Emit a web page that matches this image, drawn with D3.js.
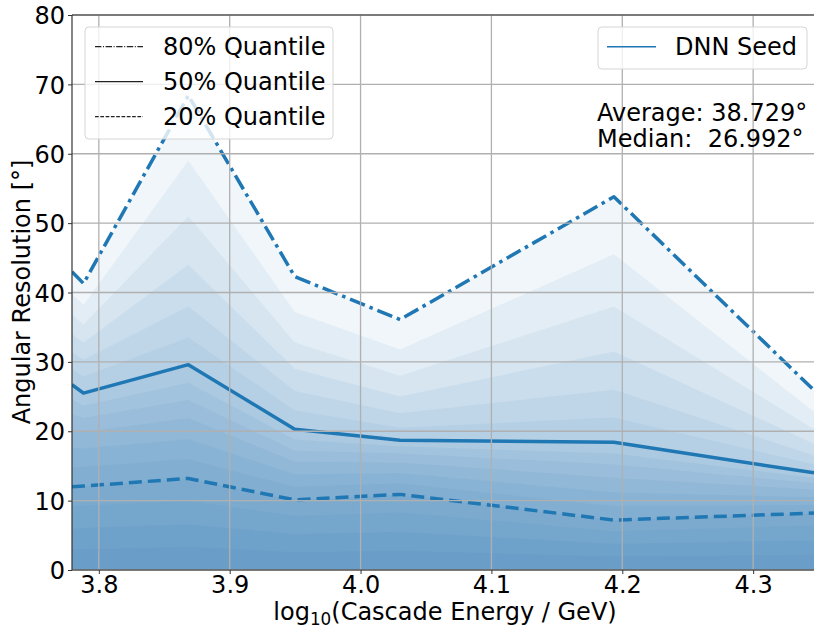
<!DOCTYPE html>
<html>
<head>
<meta charset="utf-8">
<script src="https://cdn.jsdelivr.net/npm/d3@7"></script>
<style>
  html, body { margin: 0; padding: 0; background: #fff; }
  svg { display: block; font-family: "DejaVu Sans", sans-serif; }
  text { white-space: pre; }
</style>
</head>
<body>
<svg id="chart" width="814" height="630"></svg>
<script>
// ---- data (intermediate quantiles estimated from the shading) ----
const energy = [3.7795, 3.7883, 3.8684, 3.9497, 4.0302, 4.1936, 4.3465];
const q80 = [43.0, 41.3, 68.4, 42.3, 36.1, 53.8, 25.9];
const q75 = [39.8, 38.2, 59.0, 37.2, 31.8, 45.5, 22.8];
const q70 = [36.8, 35.4, 51.0, 32.8, 28.0, 38.0, 20.3];
const q65 = [34.0, 32.8, 44.0, 29.0, 25.0, 31.5, 18.2];
const q60 = [31.4, 30.3, 38.0, 25.8, 22.6, 26.0, 16.5];
const q55 = [29.0, 27.9, 33.5, 23.0, 20.5, 22.0, 15.2];
const q50 = [26.7, 25.5, 29.6, 20.3, 18.7, 18.4, 14.0];
const q45 = [24.6, 23.7, 27.0, 18.8, 17.8, 16.8, 13.3];
const q40 = [22.5, 21.9, 24.5, 17.2, 16.8, 15.2, 12.5];
const q35 = [20.3, 19.9, 21.9, 15.6, 15.5, 13.3, 11.6];
const q30 = [17.6, 17.5, 18.9, 13.8, 14.0, 11.2, 10.5];
const q25 = [14.8, 14.9, 16.0, 12.0, 12.5, 9.2, 9.4];
const q20 = [12.0, 12.1, 13.2, 10.1, 10.9, 7.2, 8.2];
const q15 = [9.2, 9.3, 10.0, 7.8, 8.3, 5.6, 6.4];
const q10 = [6.0, 6.1, 6.6, 5.2, 5.5, 3.8, 4.3];
const q05 = [3.0, 3.0, 3.4, 2.6, 2.8, 2.0, 2.2];
const fillLevels = [q05, q10, q15, q20, q25, q30, q35, q40, q45, q50, q55, q60, q65, q70, q75, q80];
const xTicks = [3.8, 3.9, 4.0, 4.1, 4.2, 4.3];
const yTicks = [0, 10, 20, 30, 40, 50, 60, 70, 80];
const quantileLegend = ["80% Quantile", "50% Quantile", "20% Quantile"];
const seedLabel = "DNN Seed";
const statLines = ["Average: 38.729°", "Median:  26.992°"];

// ---- layout ----
const svg = d3.select("#chart");
const L = 72, R = 814, T = 15, B = 570;
const x = d3.scaleLinear().domain([3.7795, 4.3465]).range([L, R]);
const y = d3.scaleLinear().domain([0, 80]).range([B, T]);
const blue = "#1f77b4";
const fs = 24;

svg.append("defs").append("clipPath").attr("id", "clip")
  .append("rect").attr("x", L).attr("y", T).attr("width", R - L).attr("height", B - T);

const plot = svg.append("g").attr("clip-path", "url(#clip)");

// filled quantile layers
const area = d3.area().x((d, i) => x(energy[i])).y0(y(0)).y1(d => y(d));
fillLevels.forEach(arr => {
  plot.append("path").datum(arr).attr("d", area)
    .attr("fill", blue).attr("fill-opacity", 0.062).attr("stroke", "none");
});

// grid
const grid = svg.append("g");
xTicks.forEach(t => grid.append("line")
  .attr("x1", x(t)).attr("x2", x(t)).attr("y1", T).attr("y2", B)
  .attr("stroke", "#b0b0b0").attr("stroke-width", 1.3));
yTicks.forEach(t => grid.append("line")
  .attr("x1", L).attr("x2", R).attr("y1", y(t)).attr("y2", y(t))
  .attr("stroke", "#b0b0b0").attr("stroke-width", 1.3));

// quantile lines
const line = d3.line().x((d, i) => x(energy[i])).y(d => y(d));
const styles = [
  { data: q80, dash: "16,5,3.5,5" },
  { data: q50, dash: null },
  { data: q20, dash: "13,6" }
];
styles.forEach(s => {
  const p = plot.append("path").datum(s.data).attr("d", line)
    .attr("fill", "none").attr("stroke", blue).attr("stroke-width", 3.5)
    .attr("stroke-linejoin", "round");
  if (s.dash) p.attr("stroke-dasharray", s.dash);
});

// axes
const xAxis = d3.axisBottom(x).tickValues(xTicks).tickFormat(d3.format(".1f")).tickSize(4).tickPadding(2);
const yAxis = d3.axisLeft(y).tickValues(yTicks).tickFormat(d3.format("d")).tickSize(4).tickPadding(3);
const gx = svg.append("g").attr("transform", `translate(0,${B})`).call(xAxis);
const gy = svg.append("g").attr("transform", `translate(${L},0)`).call(yAxis);
[gx, gy].forEach(g => {
  g.select(".domain").remove();
  g.selectAll("line").attr("stroke", "#333").attr("stroke-width", 1);
  g.selectAll("text").attr("font-size", fs).attr("fill", "#000")
    .attr("font-family", "DejaVu Sans, sans-serif");
});
gy.selectAll("text").attr("dy", "0.36em");
gx.selectAll("text").attr("dy", "0.72em");

// spines
svg.append("line").attr("x1", L).attr("x2", L).attr("y1", T).attr("y2", B).attr("stroke", "#333").attr("stroke-width", 1.2);
svg.append("line").attr("x1", L).attr("x2", R).attr("y1", B).attr("y2", B).attr("stroke", "#333").attr("stroke-width", 1.2);
svg.append("line").attr("x1", L).attr("x2", R).attr("y1", T).attr("y2", T).attr("stroke", "#333").attr("stroke-width", 1.2);

// axis labels
const xl = svg.append("text").attr("x", 445).attr("y", 620).attr("text-anchor", "middle").attr("font-size", fs);
xl.append("tspan").text("log");
xl.append("tspan").text("10").attr("font-size", fs * 0.7).attr("dy", 5);
xl.append("tspan").text("(Cascade Energy / GeV)").attr("dy", -5);

svg.append("text").attr("transform", "translate(30,292) rotate(-90)")
  .attr("text-anchor", "middle").attr("font-size", fs).text("Angular Resolution [°]");

// legend 1 (quantiles)
svg.append("rect").attr("x", 85).attr("y", 27).attr("width", 248).attr("height", 112).attr("rx", 4)
  .attr("fill", "#fff").attr("fill-opacity", 0.8).attr("stroke", "#d5d5d5").attr("stroke-width", 1);
const legDash = ["6.4,1.6,1,1.6", null, "3.7,1.6"];
quantileLegend.forEach((lab, i) => {
  const yy = 46.7 + i * 35;
  const l = svg.append("line").attr("x1", 95).attr("x2", 143).attr("y1", yy).attr("y2", yy)
    .attr("stroke", "#222").attr("stroke-width", 1.2);
  if (legDash[i]) l.attr("stroke-dasharray", legDash[i]);
  svg.append("text").attr("x", 163).attr("y", yy + 8.7).attr("font-size", fs).text(lab);
});

// legend 2 (seed)
svg.append("rect").attr("x", 598).attr("y", 27).attr("width", 209).attr("height", 42).attr("rx", 4)
  .attr("fill", "#fff").attr("fill-opacity", 0.8).attr("stroke", "#d5d5d5").attr("stroke-width", 1);
svg.append("line").attr("x1", 607).attr("x2", 656).attr("y1", 46.7).attr("y2", 46.7)
  .attr("stroke", blue).attr("stroke-width", 1.5);
svg.append("text").attr("x", 675).attr("y", 54.7).attr("font-size", fs).text(seedLabel);

// stats
statLines.forEach((s, i) => {
  svg.append("text").attr("x", 597).attr("y", 120.7 + i * 26.5).attr("font-size", fs).text(s);
});
</script>
</body>
</html>
